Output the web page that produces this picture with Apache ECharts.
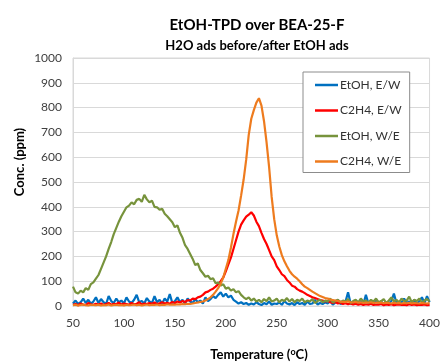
<!DOCTYPE html>
<html>
<head>
<meta charset="utf-8">
<title>EtOH-TPD over BEA-25-F</title>
<script src="https://cdn.jsdelivr.net/npm/echarts@6/dist/echarts.min.js"></script>
<style>
  html, body { margin: 0; padding: 0; background: #fff; }
  #chart { width: 443px; height: 363px; }
</style>
</head>
<body>
<div id="chart"></div>
<script type="text/javascript">
// temperature grid, 50..400 degC every 2.5
var temps = [];
for (var i = 0; i <= 140; i++) temps.push(50 + 2.5 * i);

// EtOH, E/W (ppm), rows of 10 points = 25 degC each
var etohEW = [
  10, 22, 8, 15, 30, 12, 25, 10, 18, 35,
  12, 28, 15, 8, 40, 20, 12, 30, 15, 22,
  10, 35, 18, 12, 25, 45, 15, 20, 10, 32,
  18, 12, 40, 15, 25, 10, 30, 18, 48, 12,
  20, 35, 15, 25, 10, 30, 18, 12, 28, 15,
  22, 10, 35, 20, 28, 40, 32, 45, 55, 38,
  50, 35, 42, 25, 18, 10, 15, 8, 12, 5,
  10, 6, 15, 8, 4, 12, 7, 18, 5, 10,
  8, 14, 5, 20, 10, 6, 12, 4, 15, 8,
  12, 5, 18, 8, 10, 25, 6, 12, 8, 15,
  10, 20, 6, 14, 25, 8, 12, 18, 55, 10,
  8, 15, 12, 20, 6, 45, 10, 15, 8, 25,
  12, 18, 8, 15, 10, 20, 50, 12, 8, 15,
  30, 12, 18, 10, 25, 8, 20, 35, 12, 40,
  15
];

// C2H4, E/W
var c2h4EW = [
  5, 8, 3, 10, 6, 4, 12, 7, 5, 9,
  6, 10, 4, 8, 12, 5, 9, 7, 14, 6,
  10, 8, 5, 12, 7, 9, 15, 6, 10, 8,
  12, 9, 14, 8, 11, 15, 10, 13, 9, 16,
  12, 18, 14, 20, 16, 24, 22, 30, 28, 35,
  38, 45, 55, 58, 65, 70, 78, 88, 100, 115,
  140, 168, 195, 230, 265, 300, 328, 345, 360, 368,
  378, 365, 340, 322, 295, 270, 250, 225, 200, 185,
  160, 145, 128, 120, 105, 95, 82, 78, 68, 62,
  58, 52, 45, 40, 35, 32, 28, 24, 22, 18,
  20, 15, 12, 16, 10, 13, 8, 11, 7, 10,
  6, 9, 5, 8, 4, 7, 5, 9, 4, 6,
  5, 8, 3, 6, 4, 7, 3, 5, 6, 4,
  5, 3, 7, 4, 6, 3, 5, 4, 6, 3,
  4
];

// EtOH, W/E
var etohWE = [
  78, 55, 50, 62, 55, 72, 65, 88, 95, 110,
  125, 150, 175, 200, 230, 258, 290, 315, 340, 362,
  380, 398, 405, 418, 410, 428, 432, 420, 448, 430,
  418, 425, 400, 398, 388, 392, 372, 362, 350, 338,
  318, 325, 295, 275, 245, 230, 210, 190, 165, 172,
  145, 132, 118, 122, 108, 112, 92, 95, 82, 88,
  70, 75, 62, 68, 55, 60, 45, 35, 28, 35,
  22, 30, 18, 25, 15, 28, 20, 35, 18, 22,
  30, 15, 25, 20, 32, 18, 28, 15, 25, 20,
  30, 15, 22, 18, 28, 12, 20, 25, 15, 22,
  18, 30, 14, 20, 25, 15, 22, 18, 28, 12,
  20, 25, 15, 30, 18, 22, 14, 25, 18, 30,
  15, 20, 28, 12, 22, 35, 18, 25, 15, 30,
  20, 22, 38, 15, 25, 20, 30, 14, 22, 28,
  18
];

// C2H4, W/E
var c2h4WE = [
  3, 5, 2, 4, 6, 3, 2, 5, 4, 3,
  5, 2, 4, 3, 6, 2, 4, 5, 3, 4,
  2, 5, 3, 4, 6, 3, 5, 2, 4, 6,
  3, 5, 4, 6, 3, 5, 4, 7, 5, 6,
  5, 7, 6, 8, 7, 9, 8, 10, 12, 14,
  16, 18, 22, 28, 35, 45, 58, 72, 90, 115,
  150, 185, 235, 290, 340, 385, 445, 510, 590, 690,
  755, 790, 820, 838, 808, 745, 660, 560, 440, 350,
  285, 240, 205, 180, 160, 142, 128, 118, 110, 100,
  88, 78, 72, 65, 58, 52, 46, 40, 36, 32,
  30, 26, 24, 22, 20, 18, 17, 16, 18, 15,
  14, 16, 13, 15, 12, 14, 13, 15, 12, 14,
  12, 14, 11, 13, 12, 10, 13, 11, 12, 10,
  12, 11, 13, 10, 12, 11, 10, 12, 11, 10,
  12
];

var seriesNames = ['EtOH, E/W', 'C2H4, E/W', 'EtOH, W/E', 'C2H4, W/E'];
var seriesColors = ['#0070C0', '#FF0000', '#77933C', '#EE7B1E'];
var seriesValues = [etohEW, c2h4EW, etohWE, c2h4WE];

var FONT = 'Lato';

function pairs(vals) {
    return temps.map(function (t, k) { return [t, vals[k]]; });
}

var chart = echarts.init(document.getElementById('chart'));

var option = {
    backgroundColor: '#fff',
    animation: false,
    textStyle: { fontFamily: FONT },
    title: [
        {
            text: 'EtOH-TPD over BEA-25-F',
            left: 252, top: 13, textAlign: 'center',
            textStyle: { fontSize: 15, fontWeight: 'bold', color: '#000', fontFamily: FONT }
        },
        {
            text: 'H2O ads before/after EtOH ads',
            left: 252, top: 34, textAlign: 'center',
            textStyle: { fontSize: 13, fontWeight: 'bold', color: '#000', fontFamily: FONT }
        }
    ],
    legend: {
        orient: 'vertical',
        left: 303, top: 72,
        padding: [6, 8, 4, 12],
        icon: 'rect',
        itemWidth: 23, itemHeight: 2.5, itemGap: 11.5,
        backgroundColor: '#fff',
        borderColor: '#8C8C8C', borderWidth: 1,
        textStyle: { fontSize: 12, lineHeight: 14, color: '#333', fontFamily: FONT, padding: [0, 0, 0, -3] },
        data: seriesNames
    },
    grid: {
        left: 73, right: 11, top: 58, bottom: 57,
        show: true, borderColor: '#D9D9D9', borderWidth: 1
    },
    xAxis: {
        type: 'value', min: 50, max: 400, interval: 50,
        axisLine: { lineStyle: { color: '#D9D9D9' } },
        axisTick: { show: false },
        splitLine: { show: false },
        axisLabel: { fontSize: 12, color: '#404040', margin: 11, fontFamily: FONT }
    },
    yAxis: {
        type: 'value', min: 0, max: 1000, interval: 100,
        axisLine: { show: true, lineStyle: { color: '#D9D9D9' } },
        axisTick: { show: false },
        splitLine: { lineStyle: { color: '#D9D9D9' } },
        axisLabel: {
            fontSize: 12, color: '#404040', margin: 11, fontFamily: FONT,
            formatter: function (v) { return String(v); }
        }
    },
    graphic: [
        {
            type: 'text', x: 20, y: 162, rotation: Math.PI / 2,
            style: {
                text: 'Conc. (ppm)', fill: '#000', align: 'center', verticalAlign: 'middle',
                font: 'bold 13px ' + FONT
            }
        },
        {
            type: 'text', x: 259, y: 355,
            style: {
                text: 'Temperature ({s|o}C)', fill: '#000', align: 'center', verticalAlign: 'middle',
                font: 'bold 13px ' + FONT,
                rich: { s: { fontSize: 9, fontWeight: 'bold', fontFamily: FONT, padding: [0, 0, 6, 0] } }
            }
        }
    ],
    series: seriesNames.map(function (name, k) {
        return {
            name: name, type: 'line', symbol: 'none',
            color: seriesColors[k],
            lineStyle: { width: 2.2, color: seriesColors[k] },
            data: pairs(seriesValues[k])
        };
    })
};

chart.setOption(option);
</script>
</body>
</html>
